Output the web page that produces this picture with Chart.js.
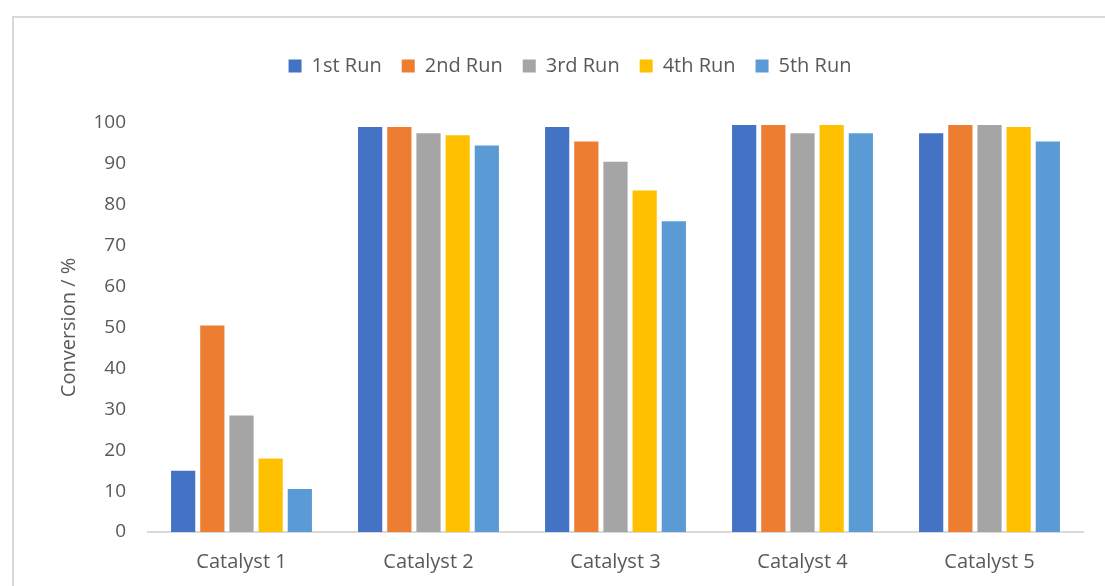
<!DOCTYPE html>
<html>
<head>
<meta charset="utf-8">
<script src="https://cdn.jsdelivr.net/npm/chart.js@4/dist/chart.umd.min.js"></script>
<style>
  html, body { margin: 0; padding: 0; background: #fff; overflow: hidden; }
  #frame { position: absolute; left: 12px; top: 16px; width: 1120px; height: 600px;
           border: 2px solid #d9d9d9; box-sizing: border-box; }
  #wrap { position: absolute; left: 0; top: 0; width: 1105px; height: 586px; }
</style>
</head>
<body>
<div id="frame"></div>
<div id="wrap"><canvas id="chart"></canvas></div>
<script>
// Conversion per catalyst over five reuse runs
const catalysts = ['Catalyst 1', 'Catalyst 2', 'Catalyst 3', 'Catalyst 4', 'Catalyst 5'];
const run1 = [15, 99, 99, 99.5, 97.5];
const run2 = [50.5, 99, 95.5, 99.5, 99.5];
const run3 = [28.5, 97.5, 90.5, 97.5, 99.5];
const run4 = [18, 97, 83.5, 99.5, 99];
const run5 = [10.5, 94.5, 76, 97.5, 95.5];
const runNames = ['1st Run', '2nd Run', '3rd Run', '4th Run', '5th Run'];
const runColors = ['#4472C4', '#ED7D31', '#A5A5A5', '#FFC000', '#5B9BD5'];
const yTicks = [0, 10, 20, 30, 40, 50, 60, 70, 80, 90, 100];

const runs = [run1, run2, run3, run4, run5];
const textColor = '#595959';
const family = '"Open Sans", "Liberation Sans", sans-serif';

// Give the legend a fixed band height so the plot starts below it with room to spare
const legendBand = {
  id: 'legendBand',
  afterInit(chart) {
    const lg = chart.legend;
    const fit = lg.fit;
    lg.fit = function () {
      fit.call(this);
      this.height = 87;
    };
  }
};

new Chart(document.getElementById('chart'), {
  type: 'bar',
  data: {
    labels: catalysts,
    datasets: runs.map((vals, i) => ({
      label: runNames[i],
      data: vals,
      backgroundColor: runColors[i],
      borderWidth: 0,
      categoryPercentage: 0.78,
      barPercentage: 0.83
    }))
  },
  plugins: [legendBand],
  options: {
    responsive: true,
    maintainAspectRatio: false,
    animation: false,
    layout: { padding: { left: 57, right: 22, top: 36, bottom: 0 } },
    plugins: {
      tooltip: { enabled: false },
      legend: {
        position: 'top',
        labels: {
          color: textColor,
          font: { family, size: 20 },
          boxWidth: 13,
          boxHeight: 13,
          padding: 20
        }
      }
    },
    scales: {
      x: {
        grid: { display: false, drawTicks: false },
        border: { display: true, color: '#d9d9d9', width: 2 },
        ticks: { color: textColor, font: { family, size: 20 }, padding: 18 },
        afterFit: (s) => { s.height = 54; }
      },
      y: {
        min: 0,
        max: 100,
        grid: { display: false, drawTicks: false },
        border: { display: false },
        afterBuildTicks: (s) => { s.ticks = yTicks.map(v => ({ value: v })); },
        ticks: { color: textColor, font: { family, size: 19 }, padding: 22 },
        title: {
          display: true,
          text: 'Conversion / %',
          color: textColor,
          font: { family, size: 20 },
          padding: { top: 0, bottom: 0 }
        },
        afterFit: (s) => { s.width = 91; }
      }
    }
  }
});
</script>
</body>
</html>
